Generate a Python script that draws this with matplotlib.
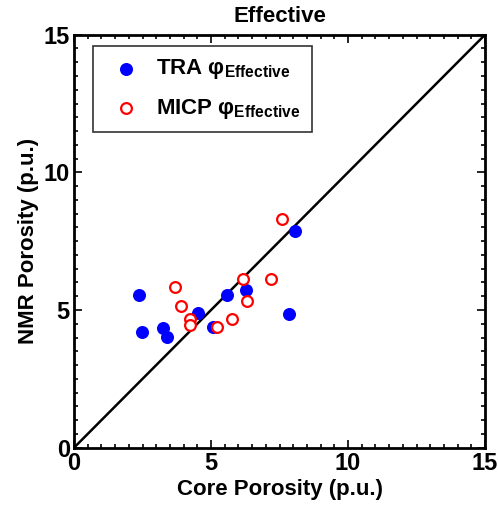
import matplotlib
matplotlib.use('Agg')
import matplotlib.pyplot as plt
from matplotlib.ticker import MultipleLocator

plt.rcParams['font.family'] = ['Liberation Sans', 'DejaVu Sans']
plt.rcParams['font.weight'] = 'bold'
plt.rcParams['mathtext.fontset'] = 'custom'
plt.rcParams['mathtext.rm'] = 'Liberation Sans:bold'
plt.rcParams['mathtext.it'] = 'Liberation Sans:bold'
plt.rcParams['mathtext.bf'] = 'Liberation Sans:bold'

# porosidade do nucleo x porosidade RMN
tra_core = [2.37, 8.07, 5.60, 6.28, 4.54, 7.86, 2.49, 3.24, 3.41, 5.09]
tra_nmr = [5.56, 7.88, 5.56, 5.71, 4.90, 4.86, 4.22, 4.33, 4.01, 4.38]

micp_core = [7.60, 6.17, 7.20, 3.67, 3.92, 6.31, 4.23, 4.23, 5.78, 5.21]
micp_nmr = [8.29, 6.11, 6.11, 5.83, 5.13, 5.31, 4.67, 4.46, 4.69, 4.38]

limite = [0, 15]

fig = plt.figure(figsize=(4.98, 5.08), dpi=100)
ax = fig.add_axes([0.1486, 0.1187, 0.8254, 0.813])

ax.plot(limite, limite, color='black', lw=1.8, zorder=1)
ax.scatter(tra_core, tra_nmr, s=70, color='blue', edgecolors='blue',
           label=r'TRA $\mathrm{φ}_{\mathrm{Effective}}$', zorder=2)
ax.scatter(micp_core, micp_nmr, s=60, facecolors='white', edgecolors='red',
           linewidths=1.6, label=r'MICP $\mathrm{φ}_{\mathrm{Effective}}$', zorder=3)

ax.set_xlim(limite)
ax.set_ylim(limite)
ax.set_xticks([0, 5, 10, 15])
ax.set_yticks([0, 5, 10, 15])
ax.xaxis.set_minor_locator(MultipleLocator(0.5))
ax.yaxis.set_minor_locator(MultipleLocator(0.5))
ax.tick_params(which='both', direction='in', top=True, right=True, width=1.2)
ax.tick_params(which='major', length=6, labelsize=17, pad=3)
ax.tick_params(which='minor', length=3)
for s in ax.spines.values():
    s.set_linewidth(2)

ax.set_xlabel('Core Porosity (p.u.)', fontsize=16, fontweight='bold', labelpad=3)
ax.set_ylabel('NMR Porosity (p.u.)', fontsize=16, fontweight='bold', labelpad=3)
ax.set_title('Effective', fontsize=16, fontweight='bold', pad=9)

leg = ax.legend(loc='upper left', bbox_to_anchor=(0.046, 0.972), borderaxespad=0,
                fontsize=16, frameon=True, fancybox=False, edgecolor='black',
                handletextpad=0.35, borderpad=0.5, labelspacing=0.7, handlelength=2.0)
leg.get_frame().set_linewidth(1.2)

fig.savefig('out.png', dpi=100)
